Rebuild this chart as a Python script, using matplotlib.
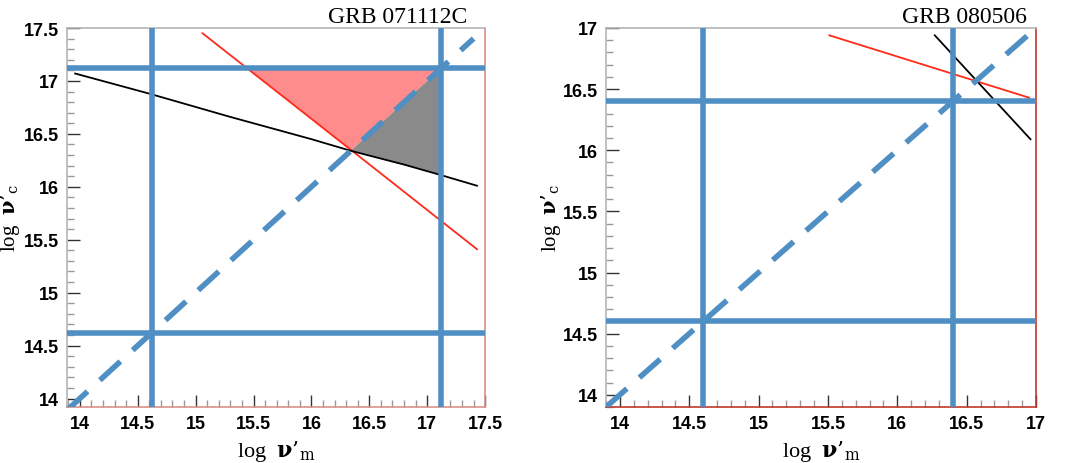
import numpy as np
import matplotlib
matplotlib.use("Agg")
from matplotlib import pyplot as plt
from matplotlib.ticker import MultipleLocator, FormatStrFormatter

# constraint lines in the (log nu'_m, log nu'_c) plane for two bursts
grb_names = ["GRB 071112C", "GRB 080506"]

# GRB 071112C
xlim_a = (13.89, 17.5)
ylim_a = (13.92, 17.5)
nu_lo_a = 14.62          # lower bound (blue lines)
nu_hi_a = 17.12          # upper bound (blue lines)
red_x_a = [15.06, 16.34, 17.43]
red_y_a = [17.45, 16.35, 15.41]
black_x_a = [13.96, 14.6, 15.3, 16.0, 16.34, 16.8, 17.12, 17.43]
black_y_a = [17.07, 16.88, 16.66, 16.45, 16.34, 16.21, 16.11, 16.01]

# GRB 080506
xlim_b = (13.9, 17.0)
ylim_b = (13.9, 17.0)
nu_lo_b = 14.6
nu_hi_b = 16.4
red_x_b = [15.51, 16.95]
red_y_b = [16.94, 16.43]
black_x_b = [16.27, 16.96]
black_y_b = [16.94, 16.09]

blue = "#4f8fc4"
serif = ["Liberation Serif", "DejaVu Serif"]


def style_axes(ax, xlim, ylim, frame_color, ylabel_x):
    '''set limits, ROOT-like inward ticks and the coloured frame'''
    ax.set_xlim(*xlim)
    ax.set_ylim(*ylim)
    for axis in (ax.xaxis, ax.yaxis):
        axis.set_major_locator(MultipleLocator(0.5))
        axis.set_minor_locator(MultipleLocator(0.1))
        axis.set_major_formatter(FormatStrFormatter("%g"))
    ax.tick_params(which="both", direction="in", top=False, right=False)
    ax.tick_params(which="major", length=9, width=1, color="#333333", pad=6)
    ax.tick_params(which="minor", length=5, width=1, color="#999999")
    for lab in ax.get_xticklabels() + ax.get_yticklabels():
        lab.set_fontfamily("Liberation Sans")
        lab.set_fontweight("bold")
        lab.set_fontsize(13)
    ax.spines["left"].set_color("#b5b5b5")
    ax.spines["top"].set_color("#b5b5b5")
    ax.spines["right"].set_color(frame_color)
    ax.spines["bottom"].set_color(frame_color)
    for s in ax.spines.values():
        s.set_linewidth(1.2)
    ax.set_xlabel("log  $\\mathbf{\\nu}$’$_{\\rm m}$", fontfamily=serif, fontsize=16, labelpad=4)
    ax.set_ylabel("log  $\\mathbf{\\nu}$’$_{\\rm c}$", fontfamily=serif, fontsize=15)
    ax.yaxis.set_label_coords(ylabel_x, 0.5)


def draw_bounds(ax, lo, hi, diag):
    '''blue allowed-range lines and the nu_m = nu_c diagonal'''
    for v in (lo, hi):
        ax.axvline(v, color=blue, lw=4, zorder=3)
        ax.axhline(v, color=blue, lw=4, zorder=3)
    ax.plot(diag, diag, color=blue, lw=4, ls=(0, (5, 3)), zorder=4)


plt.rcParams["mathtext.fontset"] = "dejavuserif"
fig = plt.figure(figsize=(10.66, 4.64), dpi=100)
ax1 = fig.add_axes([0.0629, 0.1207, 0.3922, 0.8168])
ax2 = fig.add_axes([0.5685, 0.1207, 0.4034, 0.8168])

# left panel: allowed regions between the constraint lines
x_pink_left = np.interp(nu_hi_a, red_y_a[::-1], red_x_a[::-1])
x_meet = red_x_a[1]
ax1.fill([x_pink_left, nu_hi_a, x_meet], [nu_hi_a, nu_hi_a, x_meet],
         color="#ff8c8c", lw=0, zorder=1)
y_black_hi = np.interp(nu_hi_a, black_x_a, black_y_a)
ax1.fill([x_meet, nu_hi_a, nu_hi_a], [x_meet, nu_hi_a, y_black_hi],
         color="#8a8a8a", lw=0, zorder=1)
ax1.plot(red_x_a, red_y_a, color="#ff2a1a", lw=1.3, zorder=2)
ax1.plot(black_x_a, black_y_a, color="black", lw=1.3, zorder=2)
draw_bounds(ax1, nu_lo_a, nu_hi_a, [13.89, 17.4])
style_axes(ax1, xlim_a, ylim_a, "#d9908a", -0.107)

# right panel
ax2.plot(red_x_b, red_y_b, color="#ff2a1a", lw=1.3, zorder=2)
ax2.plot(black_x_b, black_y_b, color="black", lw=1.3, zorder=2)
draw_bounds(ax2, nu_lo_b, nu_hi_b, [13.9, 17.0])
style_axes(ax2, xlim_b, ylim_b, "#c0392b", -0.1)

fig.text(0.438, 0.962, grb_names[0], ha="right", va="center", fontfamily=serif, fontsize=17)
fig.text(0.963, 0.962, grb_names[1], ha="right", va="center", fontfamily=serif, fontsize=17)

fig.savefig("out.png", dpi=100)
